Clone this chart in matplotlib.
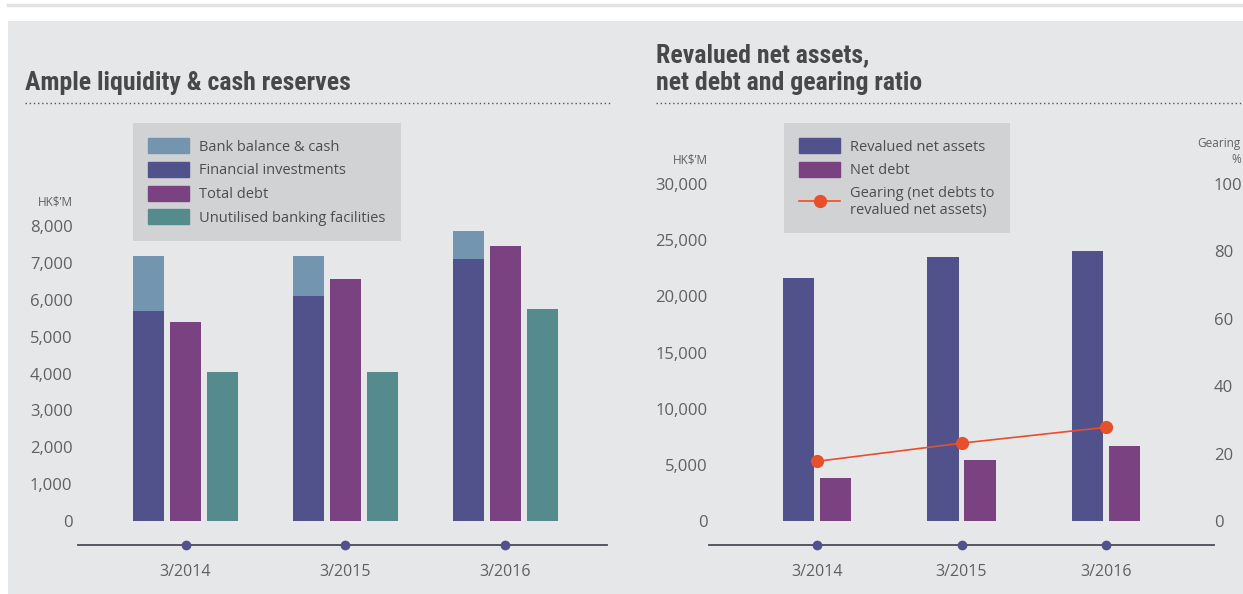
import numpy as np
import matplotlib
matplotlib.use("Agg")
import matplotlib.pyplot as plt
from matplotlib.patches import Rectangle, Patch
from matplotlib.lines import Line2D

plt.rcParams['font.family'] = ['Open Sans', 'DejaVu Sans']

# ---- data ----
periods = ["3/2014", "3/2015", "3/2016"]

bank_cash = [1490, 1090, 760]
fin_invest = [5700, 6100, 7100]
total_debt = [5390, 6560, 7460]
unutilised = [4040, 4040, 5750]

revalued_na = [21630, 23500, 24040]
net_debt = [3830, 5430, 6680]
gearing = [17.7, 23.1, 27.8]

# ---- colours ----
c_bank = '#7395b0'
c_fin = '#51528c'
c_debt = '#7b4282'
c_unut = '#568b8d'
c_orange = '#e6502a'
c_panel = '#e6e7e9'
c_legend = '#d1d2d4'
c_tick = '#606060'
c_title = '#48484a'
c_axis = '#4a4b55'

W, H = 1243, 594
fig = plt.figure(figsize=(W / 100, H / 100), dpi=100)
fig.patch.set_facecolor('white')


def fx(px):
    return px / W


def fy(py):
    return 1 - py / H


# background panel and thin top rule
fig.patches.append(Rectangle((fx(8), 0), 1 - fx(8), fy(21), transform=fig.transFigure,
                             facecolor=c_panel, edgecolor='none', zorder=-10))
fig.lines.append(Line2D([fx(8), 1], [fy(5), fy(5)], transform=fig.transFigure,
                        color='#e2e2e2', lw=2.5))

title_font = ['Liberation Sans Narrow', 'Roboto Condensed', 'Open Sans', 'DejaVu Sans']

# titles + dotted rules
fig.text(fx(25), fy(90), "Ample liquidity & cash reserves", family=title_font,
         weight='bold', fontsize=18.5, color=c_title, va='baseline')
fig.text(fx(656), fy(62), "Revalued net assets,", family=title_font,
         weight='bold', fontsize=18.5, color=c_title, va='baseline')
fig.text(fx(656), fy(90), "net debt and gearing ratio", family=title_font,
         weight='bold', fontsize=18.5, color=c_title, va='baseline')
for x0, x1 in [(25, 612), (656, 1243)]:
    fig.lines.append(Line2D([fx(x0), fx(x1)], [fy(103), fy(103)], transform=fig.transFigure,
                            color='#555555', lw=1, linestyle=(0, (1, 2))))


def style_axes(ax):
    ax.set_facecolor('none')
    for s in ['top', 'left', 'right']:
        ax.spines[s].set_visible(False)
    ax.spines['bottom'].set_color(c_axis)
    ax.spines['bottom'].set_linewidth(1.3)


x = np.arange(len(periods))

# ---------------- left chart ----------------
ax1 = fig.add_axes([fx(78), fy(545), fx(607) - fx(78), fy(110) - fy(545)])
style_axes(ax1)
bw = 0.194
off = 0.2316
ax1.bar(x - off, fin_invest, bw, color=c_fin, label="Financial investments")
ax1.bar(x - off, bank_cash, bw, bottom=fin_invest, color=c_bank, label="Bank balance & cash")
ax1.bar(x, total_debt, bw, color=c_debt, label="Total debt")
ax1.bar(x + off, unutilised, bw, color=c_unut, label="Unutilised banking facilities")
ax1.set_xlim(-0.673, 2.638)
ax1.set_ylim(-651, 11146)
ax1.set_yticks(range(0, 8001, 1000))
ax1.set_yticklabels([f"{v:,}" for v in range(0, 8001, 1000)])
ax1.set_xticks(x)
ax1.set_xticklabels(periods)
ax1.tick_params(axis='y', length=0, pad=4, labelsize=12, labelcolor=c_tick)
ax1.tick_params(axis='x', length=0, pad=14, labelsize=11.5, labelcolor=c_tick)
ax1.plot(x, [-651] * 3, 'o', color=c_fin, ms=6, clip_on=False, zorder=5)
fig.text(fx(73), fy(202), "HK$’M", ha='right', va='center', fontsize=8.5, color=c_tick)

h1 = [Patch(color=c_bank), Patch(color=c_fin), Patch(color=c_debt), Patch(color=c_unut)]
l1 = ["Bank balance & cash", "Financial investments", "Total debt", "Unutilised banking facilities"]
leg1 = ax1.legend(h1, l1, loc='upper left', bbox_to_anchor=(fx(133), fy(123)),
                  bbox_transform=fig.transFigure, borderaxespad=0, frameon=True,
                  facecolor=c_legend, edgecolor='none', fancybox=False, framealpha=1,
                  fontsize=10.5, handlelength=2.8, handleheight=1.2, labelspacing=0.5,
                  handletextpad=0.7, borderpad=1.05, labelcolor='#4d4d4d')

# ---------------- right chart ----------------
ax2 = fig.add_axes([fx(709), fy(545), fx(1214) - fx(709), fy(110) - fy(545)])
style_axes(ax2)
bw2 = 0.2145
off2 = 0.128
ax2.bar(x - off2, revalued_na, bw2, color=c_fin)
ax2.bar(x + off2, net_debt, bw2, color=c_debt)
ax2.set_xlim(-0.747, 2.747)
ax2.set_ylim(-2136.5, 36588)
ax2.set_yticks(range(0, 30001, 5000))
ax2.set_yticklabels([f"{v:,}" for v in range(0, 30001, 5000)])
ax2.set_xticks(x)
ax2.set_xticklabels(periods)
ax2.tick_params(axis='y', length=0, pad=1, labelsize=12, labelcolor=c_tick)
ax2.tick_params(axis='x', length=0, pad=14, labelsize=11.5, labelcolor=c_tick)
ax2.plot(x, [-2136.5] * 3, 'o', color=c_fin, ms=6, clip_on=False, zorder=5)

ax3 = ax2.twinx()
ax3.set_facecolor('none')
for s in ax3.spines.values():
    s.set_visible(False)
ax3.set_ylim(-2136.5 / 300, 36588 / 300)
ax3.set_yticks(range(0, 101, 20))
ax3.tick_params(axis='y', length=0, pad=0, labelsize=12, labelcolor=c_tick)
ax3.plot(x, gearing, '-o', color=c_orange, lw=1.2, ms=8.5)

fig.text(fx(708), fy(160), "HK$’M", ha='right', va='center', fontsize=8.5, color=c_tick)
fig.text(fx(1241), fy(152), "Gearing\n%", ha='right', va='center', multialignment='right',
         fontsize=8.5, color=c_tick, linespacing=1.3)

h2 = [Patch(color=c_fin), Patch(color=c_debt),
      Line2D([], [], color=c_orange, lw=1.2, marker='o', ms=8.5)]
l2 = ["Revalued net assets", "Net debt", "Gearing (net debts to\nrevalued net assets)"]
ax3.legend(h2, l2, loc='upper left', bbox_to_anchor=(fx(784), fy(123)),
           bbox_transform=fig.transFigure, borderaxespad=0, frameon=True,
           facecolor=c_legend, edgecolor='none', fancybox=False, framealpha=1,
           fontsize=10.5, handlelength=2.8, handleheight=1.2, labelspacing=0.5,
           handletextpad=0.7, borderpad=1.05, labelcolor='#4d4d4d')

fig.savefig("out.png", dpi=100, facecolor=fig.get_facecolor())
